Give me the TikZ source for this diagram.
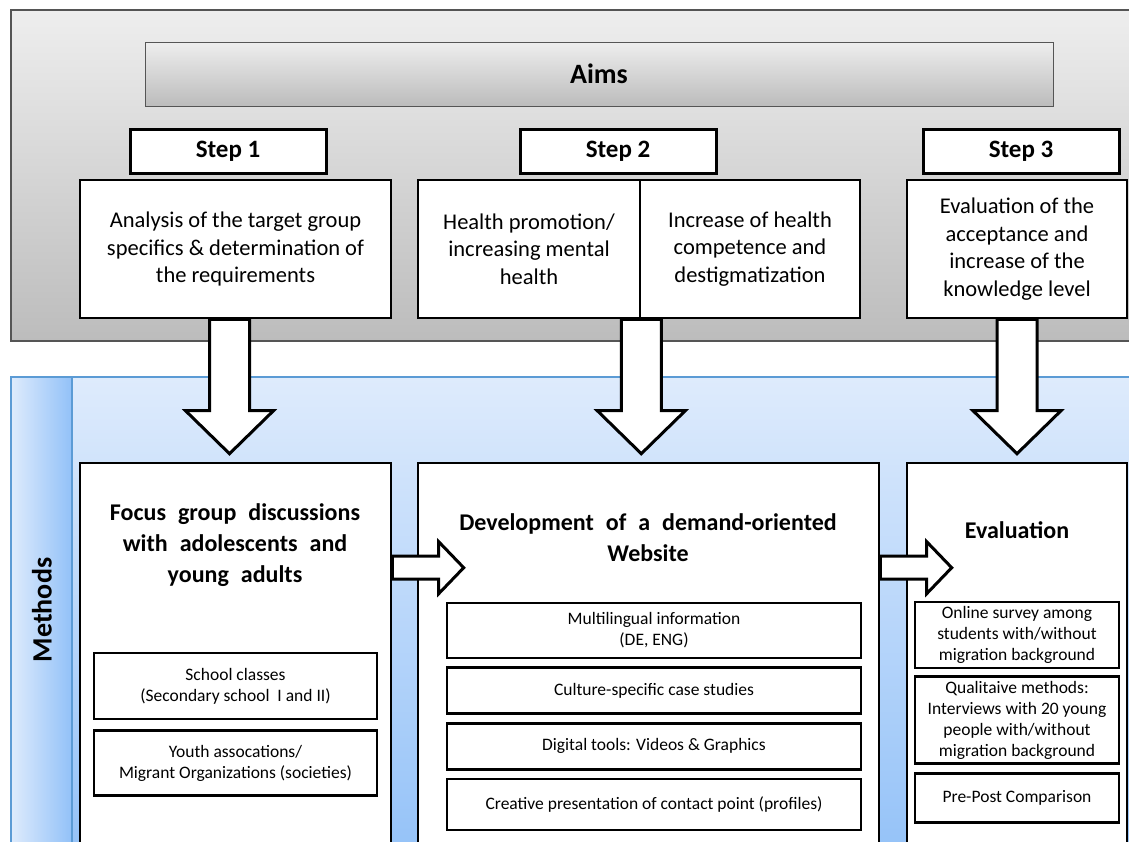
\documentclass[tikz,border=0pt]{standalone}
\usepackage{fontspec}
\setmainfont{Carlito}
\usetikzlibrary{calc, positioning}
\definecolor{aimTop}{RGB}{238,238,238}
\definecolor{aimBot}{RGB}{188,188,188}
\definecolor{methTop}{RGB}{222,235,252}
\definecolor{methBot}{RGB}{146,193,248}
\definecolor{methLine}{RGB}{91,155,213}
\definecolor{panelLine}{RGB}{85,85,85}
\newcommand{\wideSpace}{\spaceskip=0.5em\relax}
\tikzset{
    aimPanel/.style={draw=panelLine, line width=1.3pt, top color=aimTop, bottom color=aimBot},
    methPanel/.style={draw=methLine, line width=1.3pt, top color=methTop, bottom color=methBot},
    methTab/.style={draw=methLine, line width=1.3pt, left color=methTop, right color=methBot},
    tabText/.style={font=\bfseries\fontsize{28}{32}\selectfont},
    aimBar/.style={draw=panelLine, line width=1pt, top color=aimTop, bottom color=aimBot, minimum width=908pt, minimum height=64pt, font=\bfseries\fontsize{28}{32}\selectfont},
    stepBox/.style={draw, fill=white, line width=3pt, minimum width=196pt, minimum height=44pt, font=\bfseries\fontsize{25}{30}\selectfont},
    aimBox/.style={draw, fill=white, line width=2.6pt, minimum height=138pt, align=center, font=\fontsize{22.5}{27.5}\selectfont},
    methBox/.style={draw, fill=white, line width=2.6pt, minimum height=400pt},
    methTitle/.style={align=center, font=\bfseries\fontsize{24}{31}\selectfont\wideSpace},
    subBox/.style={draw, fill=white, line width=2.6pt, align=center, inner sep=1pt, font=\fontsize{17.5}{21}\selectfont},
    blockArrow/.style={draw, fill=white, line width=3pt, line join=miter},
}
\newcommand{\drawDownArrow}[2]{
    % shaft from the aim box, head ends above the method box
    \draw[blockArrow] ($(#1)+(-20,0)$) -- ($(#2)+(-20,-51)$) -- ($(#2)+(-44,-51)$) -- ($(#2)+(0,-8)$)
        -- ($(#2)+(44,-51)$) -- ($(#2)+(20,-51)$) -- ($(#1)+(20,0)$) -- cycle;
}
\newcommand{\drawRightArrow}[2]{
    \draw[blockArrow] ($(#1)+(0,-11.5)$) -- ($(#2)+(-25,-11.5)$) -- ($(#2)+(-25,-26)$) -- (#2)
        -- ($(#2)+(-25,26)$) -- ($(#2)+(-25,11.5)$) -- ($(#1)+(0,11.5)$) -- cycle;
}

\begin{document}
\begin{tikzpicture}[x=1pt, y=-1pt]
        \clip (0,0) rectangle (1129,841);
        \fill[white] (0,0) rectangle (1129,841);

        % panels
        \draw[aimPanel] (11,10) rectangle (1140,341);
        \draw[methPanel] (72,377) rectangle (1140,870);
        \draw[methTab] (11,377) rectangle (72,870);
        \node[tabText, rotate=90] (methods) at (42,610) {Methods};

        % aims
        \node[aimBar] (aims) at (599,74) {Aims};
        \node[stepBox] (stepA) at (228,151) {Step 1};
        \node[stepBox] (stepB) at (618,151) {Step 2};
        \node[stepBox] (stepC) at (1021,151) {Step 3};

        \node[aimBox, minimum width=311pt] (aimA) at (235.5,249) {Analysis of the target group\\specifics \& determination of\\the requirements};
        \node[aimBox, minimum width=222pt] (aimBa) at (529,249) {Health promotion/\\increasing mental\\health};
        \node[aimBox, minimum width=220pt] (aimBb) at (750,249) {Increase of health\\competence and\\destigmatization};
        \node[aimBox, minimum width=220pt] (aimC) at (1017,249) {Evaluation of the\\acceptance and\\increase of the\\knowledge level};

        % methods
        \node[methBox, minimum width=311pt] (methA) at (235.5,663) {};
        \node[methBox, minimum width=461pt] (methB) at (648.5,663) {};
        \node[methBox, minimum width=220pt] (methC) at (1017,663) {};

        \node[methTitle] (titleA) at (235,545) {Focus group discussions\\with adolescents and\\young adults};
        \node[methTitle] (titleB) at (648,538) {Development of a demand-oriented\\Website};
        \node[methTitle] (titleC) at (1017,530) {Evaluation};

        \node[subBox, minimum width=283pt, minimum height=66pt] (subA1) at (235.5,686) {School classes\\(Secondary school~ I and II)};
        \node[subBox, minimum width=283pt, minimum height=65pt, below=9pt of subA1] (subA2) {Youth assocations/\\Migrant Organizations (societies)};

        \node[subBox, minimum width=414pt, minimum height=55pt] (subB1) at (654,630.5) {Multilingual information\\(DE, ENG)};
        \node[subBox, minimum width=414pt, minimum height=46pt, below=7pt of subB1] (subB2) {Culture-specific case studies};
        \node[subBox, minimum width=414pt, minimum height=46pt, below=7pt of subB2] (subB3) {Digital tools: Videos \& Graphics};
        \node[subBox, minimum width=414pt, minimum height=51pt, below=7pt of subB3] (subB4) {Creative presentation of contact point (profiles)};

        \node[subBox, minimum width=204pt, minimum height=66pt] (subC1) at (1017,635) {Online survey among\\students with/without\\migration background};
        \node[subBox, minimum width=204pt, minimum height=87pt, below=6pt of subC1] (subC2) {Qualitaive methods:\\Interviews with 20 young\\people with/without\\migration background};
        \node[subBox, minimum width=204pt, minimum height=49pt, below=7pt of subC2] (subC3) {Pre-Post Comparison};

        % arrows
        \coordinate (startA) at ($(aimA.south)+(-6,0)$);
        \coordinate (startB) at (aimBa.south east);
        \coordinate (tipA) at (startA |- methA.north);
        \coordinate (tipB) at (startB |- methB.north);
        \coordinate (tipC) at (aimC.south |- methC.north);
        \drawDownArrow{startA}{tipA}
        \drawDownArrow{startB}{tipB}
        \drawDownArrow{aimC.south}{tipC}

        \coordinate (outA) at ($(methA.north east)+(0,106)$);
        \coordinate (inB) at ($(methB.north west)+(47,106)$);
        \coordinate (outB) at ($(methB.north east)+(0,106)$);
        \coordinate (inC) at ($(methC.north west)+(46,106)$);
        \drawRightArrow{outA}{inB}
        \drawRightArrow{outB}{inC}

    \end{tikzpicture}
\end{document}
